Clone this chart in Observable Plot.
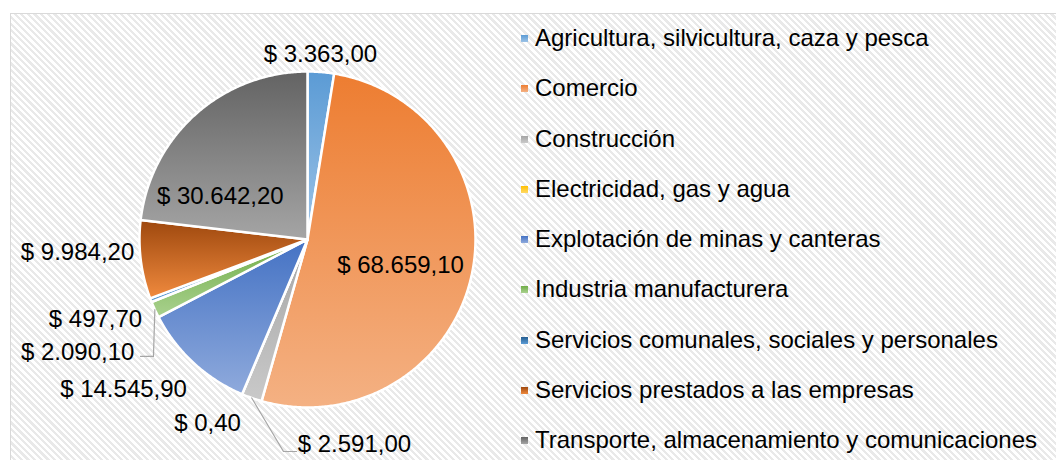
<!DOCTYPE html>
<html>
<head>
<meta charset="utf-8">
<script src="https://cdn.jsdelivr.net/npm/d3@7"></script>
<script src="https://cdn.jsdelivr.net/npm/@observablehq/plot@0.6"></script>
<style>
  html, body { margin: 0; padding: 0; background: #ffffff; width: 1056px; height: 460px; overflow: hidden; }
  body { position: relative; font-family: "Liberation Sans", Arial, sans-serif; }
  #frame {
    position: absolute; left: 10px; top: 13px; width: 1060px; height: 460px;
    border: 1px solid #d9d9d9;
    background: repeating-linear-gradient(45deg, #ffffff 0px, #ffffff 2.4px, #e9e9e9 2.4px, #e9e9e9 4.7px);
  }
  #chart { position: absolute; left: 0; top: 0; }
  #legend { position: absolute; left: 518px; top: 13px; }
  .row { position: relative; height: 50.25px; line-height: 50px; font-size: 24px; color: #000; white-space: nowrap; padding-left: 17px; }
  .sw { position: absolute; left: 3px; top: 22px; width: 7px; height: 7px; }
</style>
</head>
<body>
<div id="frame"></div>
<div id="chart"></div>
<div id="legend"></div>
<script>
// ---- data ----
const categories = [
  "Agricultura, silvicultura, caza y pesca",
  "Comercio",
  "Construcción",
  "Electricidad, gas y agua",
  "Explotación de minas y canteras",
  "Industria manufacturera",
  "Servicios comunales, sociales y personales",
  "Servicios prestados a las empresas",
  "Transporte, almacenamiento y comunicaciones"
];
const values = [3363.00, 68659.10, 2591.00, 0.40, 14545.90, 2090.10, 497.70, 9984.20, 30642.20];

// ---- styling (gradient top -> bottom per slice) ----
const colorsTop    = ["#5B9BD5", "#ED7D31", "#A5A5A5", "#FFC000", "#4472C4", "#70AD47", "#255E91", "#9E480E", "#636363"];
const colorsBottom = ["#9DC3E6", "#F4B183", "#C9C9C9", "#FFD966", "#8FAADC", "#A9D18E", "#5B9BD5", "#F08A3E", "#A5A5A5"];

// label layout: polar placement (degrees clockwise from 12 o'clock, radius as fraction of pie radius)
const labelAngle  = [4.0, 105.6, 167.1, 208.5, 230.8, 243.8, 249.3, 266.8, 296.5];
const labelRadius = [1.104, 0.575, 1.252, 1.247, 1.413, 1.525, 1.349, 1.371, 0.58];
// leader lines (elbow and end, in pie-radius units relative to center; start is slice edge)
const leaders = {
  2: [[-0.143, 1.262], [-0.065, 1.262]],
  5: [[-0.917, 0.696], [-0.994, 0.696]]
};

// ---- geometry ----
const W = 520, H = 460, cx = 307, cy = 239, R = 168;
const total = d3.sum(values);
let acc = 0;
const slices = values.map((v, i) => {
  const a0 = acc / total * 2 * Math.PI;
  acc += v;
  const a1 = acc / total * 2 * Math.PI;
  return {i, name: categories[i], value: v, a0, a1, mid: (a0 + a1) / 2};
});
const pt = (a, r) => [r * Math.sin(a), -r * Math.cos(a)];

const polys = slices.map(s => {
  const pts = [{x: 0, y: 0}];
  const n = Math.max(2, Math.ceil((s.a1 - s.a0) / (Math.PI / 360)));
  for (let k = 0; k <= n; k++) {
    const a = s.a0 + (s.a1 - s.a0) * k / n;
    const [x, y] = pt(a, 1);
    pts.push({x, y});
  }
  pts.push({x: 0, y: 0});
  return pts;
});

const loc = d3.formatLocale({decimal: ",", thousands: ".", grouping: [3], currency: ["$ ", ""]});
const fmt = loc.format("$,.2f");

const labels = slices.map(s => {
  const a = labelAngle[s.i] * Math.PI / 180;
  const [x, y] = pt(a, labelRadius[s.i]);
  return {x, y, text: fmt(s.value)};
});

const leaderLines = [];
Object.entries(leaders).forEach(([k, pts]) => {
  const s = slices[+k];
  const [x0, y0] = pt(s.mid, 1);
  const line = [{x: x0, y: y0}, ...pts.map(([x, y]) => ({x, y}))];
  line.forEach(p => leaderLines.push({...p, k}));
});

const font = "'Liberation Sans', Arial, sans-serif";

const chart = Plot.plot({
  width: W, height: H,
  margin: 0,
  style: {background: "transparent", fontFamily: font, overflow: "visible"},
  x: {domain: [-cx / R, (W - cx) / R], range: [0, W], axis: null},
  y: {domain: [-cy / R, (H - cy) / R], range: [0, H], axis: null},
  marks: [
    ...polys.map((p, i) => Plot.line(p, {
      x: "x", y: "y", fill: `url(#grad${i})`, stroke: "#ffffff", strokeWidth: 2.5,
      strokeLinejoin: "round"
    })),
    Plot.line(leaderLines, {x: "x", y: "y", z: "k", stroke: "#a6a6a6", strokeWidth: 1.2}),
    Plot.text(labels, {x: "x", y: "y", text: "text", fontSize: 24, fill: "#000000", textAnchor: "middle", fontFamily: font})
  ]
});

// gradient defs
const ns = "http://www.w3.org/2000/svg";
const defs = document.createElementNS(ns, "defs");
colorsTop.forEach((c, i) => {
  const g = document.createElementNS(ns, "linearGradient");
  g.setAttribute("id", `grad${i}`);
  g.setAttribute("x1", "0"); g.setAttribute("y1", "0");
  g.setAttribute("x2", "0"); g.setAttribute("y2", "1");
  [[0, c], [1, colorsBottom[i]]].forEach(([o, col]) => {
    const st = document.createElementNS(ns, "stop");
    st.setAttribute("offset", o);
    st.setAttribute("stop-color", col);
    g.appendChild(st);
  });
  defs.appendChild(g);
});
chart.insertBefore(defs, chart.firstChild);
document.getElementById("chart").appendChild(chart);

// legend
const legend = document.getElementById("legend");
categories.forEach((c, i) => {
  const row = document.createElement("div");
  row.className = "row";
  const sw = document.createElement("span");
  sw.className = "sw";
  sw.style.background = `linear-gradient(${colorsTop[i]}, ${colorsBottom[i]})`;
  row.appendChild(sw);
  row.appendChild(document.createTextNode(c));
  legend.appendChild(row);
});
</script>
</body>
</html>
